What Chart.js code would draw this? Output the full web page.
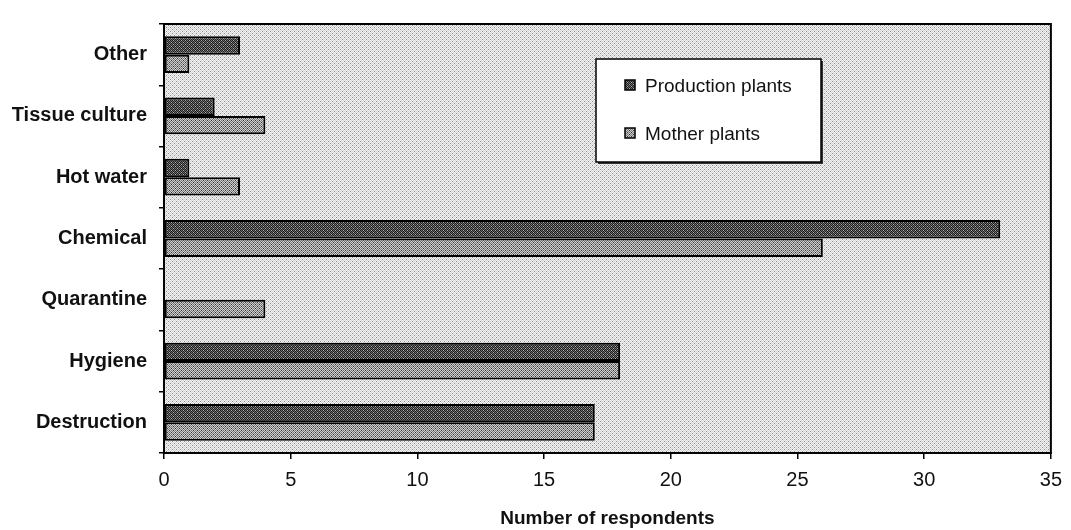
<!DOCTYPE html>
<html>
<head>
<meta charset="utf-8">
<script src="https://cdn.jsdelivr.net/npm/chart.js@4.4.1/dist/chart.umd.min.js"></script>
<style>
  html, body { margin: 0; padding: 0; background: #fff; }
  #wrap { width: 1071px; height: 530px; position: relative; }
</style>
</head>
<body>
<div id="wrap"><canvas id="chart"></canvas></div>
<script>
// categories listed top to bottom
var methods = ['Other', 'Tissue culture', 'Hot water', 'Chemical', 'Quarantine', 'Hygiene', 'Destruction'];
var productionPlants = [3, 2, 1, 33, 0, 18, 17];
var motherPlants = [1, 4, 3, 26, 4, 18, 17];
var seriesNames = ['Production plants', 'Mother plants'];
var xTicks = [0, 5, 10, 15, 20, 25, 30, 35];

var FONT = '"Liberation Sans", Arial, sans-serif';

// small checker tiles, like the old spreadsheet pattern fills
function makePattern(a, b, extra, dot) {
  var c = document.createElement('canvas');
  c.width = 4; c.height = 4;
  var g = c.getContext('2d');
  for (var y = 0; y < 4; y++) {
    for (var x = 0; x < 4; x++) {
      g.fillStyle = (x + y) % 2 === 0 ? a : b;
      g.fillRect(x, y, 1, 1);
    }
  }
  if (extra) {
    g.fillStyle = dot;
    extra.forEach(function (p) { g.fillRect(p[0], p[1], 1, 1); });
  }
  return g.createPattern(c, 'repeat');
}

var bgFill = makePattern('#f4f4f4', '#d2d2d2', [[0, 1], [2, 3]], '#8a8a8a');
var prodFill = makePattern('#1c1c1c', '#6e6e6e', [[1, 0], [3, 2]], '#b0b0b0');
var motherFill = makePattern('#cfcfcf', '#777777', [[1, 2], [3, 0]], '#333333');

// grey plot background and frame
var plotFrame = {
  id: 'plotFrame',
  beforeDraw: function (chart) {
    var ctx = chart.ctx, a = chart.chartArea;
    ctx.save();
    ctx.fillStyle = '#fff';
    ctx.fillRect(0, 0, chart.width, chart.height);
    ctx.fillStyle = bgFill;
    ctx.fillRect(a.left, a.top, a.right - a.left, a.bottom - a.top);
    ctx.restore();
  },
  afterDraw: function (chart) {
    var ctx = chart.ctx, a = chart.chartArea;
    ctx.save();
    ctx.strokeStyle = '#000';
    ctx.lineWidth = 2;
    ctx.strokeRect(a.left, a.top, a.right - a.left, a.bottom - a.top);
    ctx.restore();
  }
};

// boxed legend sitting inside the plot
var boxLegend = {
  id: 'boxLegend',
  afterDraw: function (chart) {
    var ctx = chart.ctx, a = chart.chartArea;
    var x = a.left + 432, y = a.top + 35, w = 225, h = 103;
    ctx.save();
    ctx.fillStyle = '#333';
    ctx.fillRect(x + 2, y + 2, w, h);
    ctx.fillStyle = '#fff';
    ctx.fillRect(x, y, w, h);
    ctx.strokeStyle = '#000';
    ctx.lineWidth = 1.5;
    ctx.strokeRect(x, y, w, h);
    ctx.font = '19px ' + FONT;
    ctx.textBaseline = 'alphabetic';
    chart.data.datasets.forEach(function (ds, i) {
      var sy = y + 21 + i * 48;
      ctx.fillStyle = ds.backgroundColor;
      ctx.fillRect(x + 29, sy, 10, 10);
      ctx.strokeStyle = '#000';
      ctx.lineWidth = 1.5;
      ctx.strokeRect(x + 29, sy, 10, 10);
      ctx.fillStyle = '#111';
      ctx.fillText(ds.label, x + 49, sy + 12);
    });
    ctx.restore();
  }
};

var ctx = document.getElementById('chart').getContext('2d');
var chart = new Chart(ctx, {
  type: 'bar',
  data: {
    labels: methods,
    datasets: [{
      label: seriesNames[0],
      data: productionPlants,
      backgroundColor: prodFill,
      borderColor: '#000',
      borderWidth: 2,
      borderSkipped: false
    }, {
      label: seriesNames[1],
      data: motherPlants,
      backgroundColor: motherFill,
      borderColor: '#000',
      borderWidth: 2,
      borderSkipped: false
    }]
  },
  options: {
    indexAxis: 'y',
    responsive: true,
    maintainAspectRatio: false,
    animation: false,
    datasets: { bar: { categoryPercentage: 0.6, barPercentage: 1.0 } },
    layout: { padding: { top: 19, right: 16, left: 0, bottom: 0 } },
    plugins: {
      legend: { display: false },
      tooltip: { enabled: false }
    },
    scales: {
      x: {
        min: 0,
        max: 35,
        afterBuildTicks: function (scale) {
          scale.ticks = xTicks.map(function (v) { return { value: v }; });
        },
        afterFit: function (scale) { scale.height = 77; },
        grid: { drawOnChartArea: false, color: '#000', tickLength: 6, lineWidth: 1.5 },
        border: { display: true, color: '#000', width: 2 },
        ticks: {
          color: '#111',
          padding: 9,
          maxRotation: 0,
          font: { family: FONT, size: 20 }
        },
        title: {
          display: true,
          text: 'Number of respondents',
          color: '#111',
          padding: { top: 4, bottom: 0 },
          font: { family: FONT, size: 19, weight: 'bold' }
        }
      },
      y: {
        afterFit: function (scale) { scale.width = 164; },
        grid: { offset: true, drawOnChartArea: false, color: '#000', tickLength: 5, lineWidth: 1.5 },
        border: { display: true, color: '#000', width: 2 },
        ticks: {
          color: '#111',
          padding: 12,
          font: { family: FONT, size: 20, weight: 'bold' }
        }
      }
    }
  },
  plugins: [plotFrame, boxLegend]
});
</script>
</body>
</html>
